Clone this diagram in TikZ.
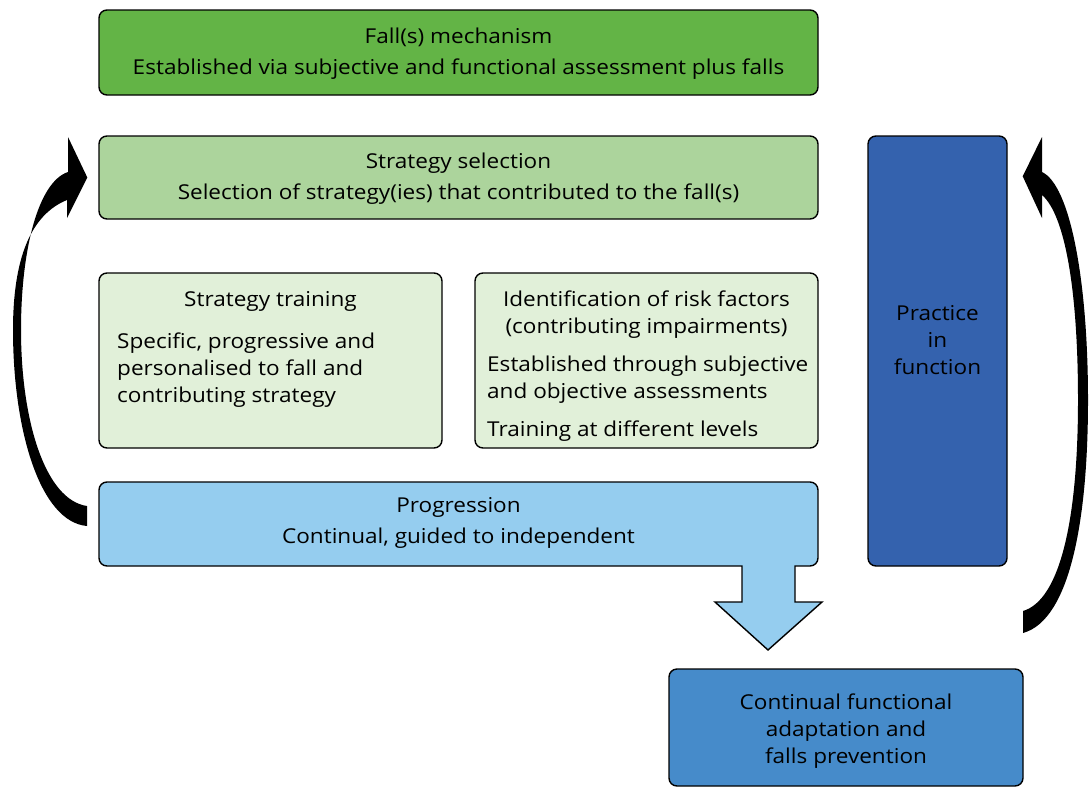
\documentclass[tikz,border=0pt]{standalone}
\usepackage{fontspec}
\setmainfont{Open Sans}[FakeStretch=1.1]
\usetikzlibrary{calc}
\definecolor{mechgreen}{HTML}{63B446}
\definecolor{selgreen}{HTML}{ACD49C}
\definecolor{palegreen}{HTML}{E1F0D9}
\definecolor{progblue}{HTML}{95CDEF}
\definecolor{pracblue}{HTML}{3462AE}
\definecolor{contblue}{HTML}{468BCA}

\begin{document}
\begin{tikzpicture}[x=1pt,y=-1pt]
  \def\r{8pt}

\tikzstyle{box}=[draw=black,line width=1.4pt,rounded corners=\r,inner sep=0pt,align=center,font=\fontsize{20.5}{31}\selectfont]
\tikzstyle{txt}=[inner sep=0pt,align=center,font=\fontsize{20.5}{27}\selectfont]
\useasboundingbox (0,0) rectangle (1089,787);
% boxes down the middle
\node[box][fill=mechgreen,minimum width=719pt,minimum height=85pt] (mech) at (458.5,52.5) {};
\node[txt][font=\fontsize{20.5}{31}\selectfont] (mechtxt) at (458.5,54) {Fall(s) mechanism\\Established via subjective and functional assessment plus falls};
\node[box][fill=selgreen,minimum width=719pt,minimum height=83pt] (sel) at (458.5,177.5) {};
\node[txt][font=\fontsize{20.5}{31}\selectfont] (seltxt) at (458.5,179) {Strategy selection\\Selection of strategy(ies) that contributed to the fall(s)};
\node[box][fill=palegreen,minimum width=343pt,minimum height=175pt] (train) at (270.5,360.5) {};
\node[txt] (traintitle) at (270.5,301.5) {Strategy training};
\node[txt][align=left,anchor=north west] (trainbody) at (117,333) {Specific, progressive and\\personalised to fall and\\contributing strategy};
\node[box][fill=palegreen,minimum width=343pt,minimum height=175pt] (risk) at (646.5,360.5) {};
\node[txt] (risktitle) at (646.5,315) {Identification of risk factors\\(contributing impairments)};
\node[txt][align=left,anchor=north west] (riskbody) at (487,356) {Established through subjective\\and objective assessments\\[11pt]Training at different levels};
% progression with its down arrow
\draw[fill=progblue,line width=1.4pt] (742,566) [rounded corners=\r] -- (99,566) -- (99,482) -- (818,482) -- (818,566) [sharp corners] -- (795,566) -- (795,602) -- (822,602) -- (768,650) -- (715,602) -- (742,602) -- cycle;
\node[txt][font=\fontsize{20.5}{31}\selectfont] (prog) at (458.5,523) {Progression\\Continual, guided to independent};
\node[box][fill=pracblue,minimum width=139pt,minimum height=430pt] (prac) at (937.5,351) {};
\node[txt] (practxt) at (937.5,340) {Practice\\in\\function};
\node[box][fill=contblue,minimum width=354pt,minimum height=117pt] (cont) at (846,727.5) {};
\node[txt] (conttxt) at (846,731) {Continual functional\\adaptation and\\falls prevention};
% curved arrows
\coordinate (lhead) at ($(sel.west)+(-11,0)$);
\coordinate (rhead) at ($(prac.north east)+(15,41)$);
\fill (87,526) .. controls (40,522) and (13,430) .. (13,330) .. controls (13,260) and (30,215) .. (67,200) -- (67,218) -- (lhead) -- (68,137) -- (68,172) .. controls (38,182) and (21,250) .. (21,330) .. controls (21,420) and (45,500) .. (87,506) -- cycle;
\fill (1042,172) .. controls (1070,185) and (1088,280) .. (1088,400) .. controls (1088,520) and (1070,620) .. (1023,633) -- (1023,611) .. controls (1060,600) and (1078,520) .. (1078,400) .. controls (1078,290) and (1065,215) .. (1042,195) -- (1042,218) -- (rhead) -- (1042,137) -- cycle;
\end{tikzpicture}
\end{document}
